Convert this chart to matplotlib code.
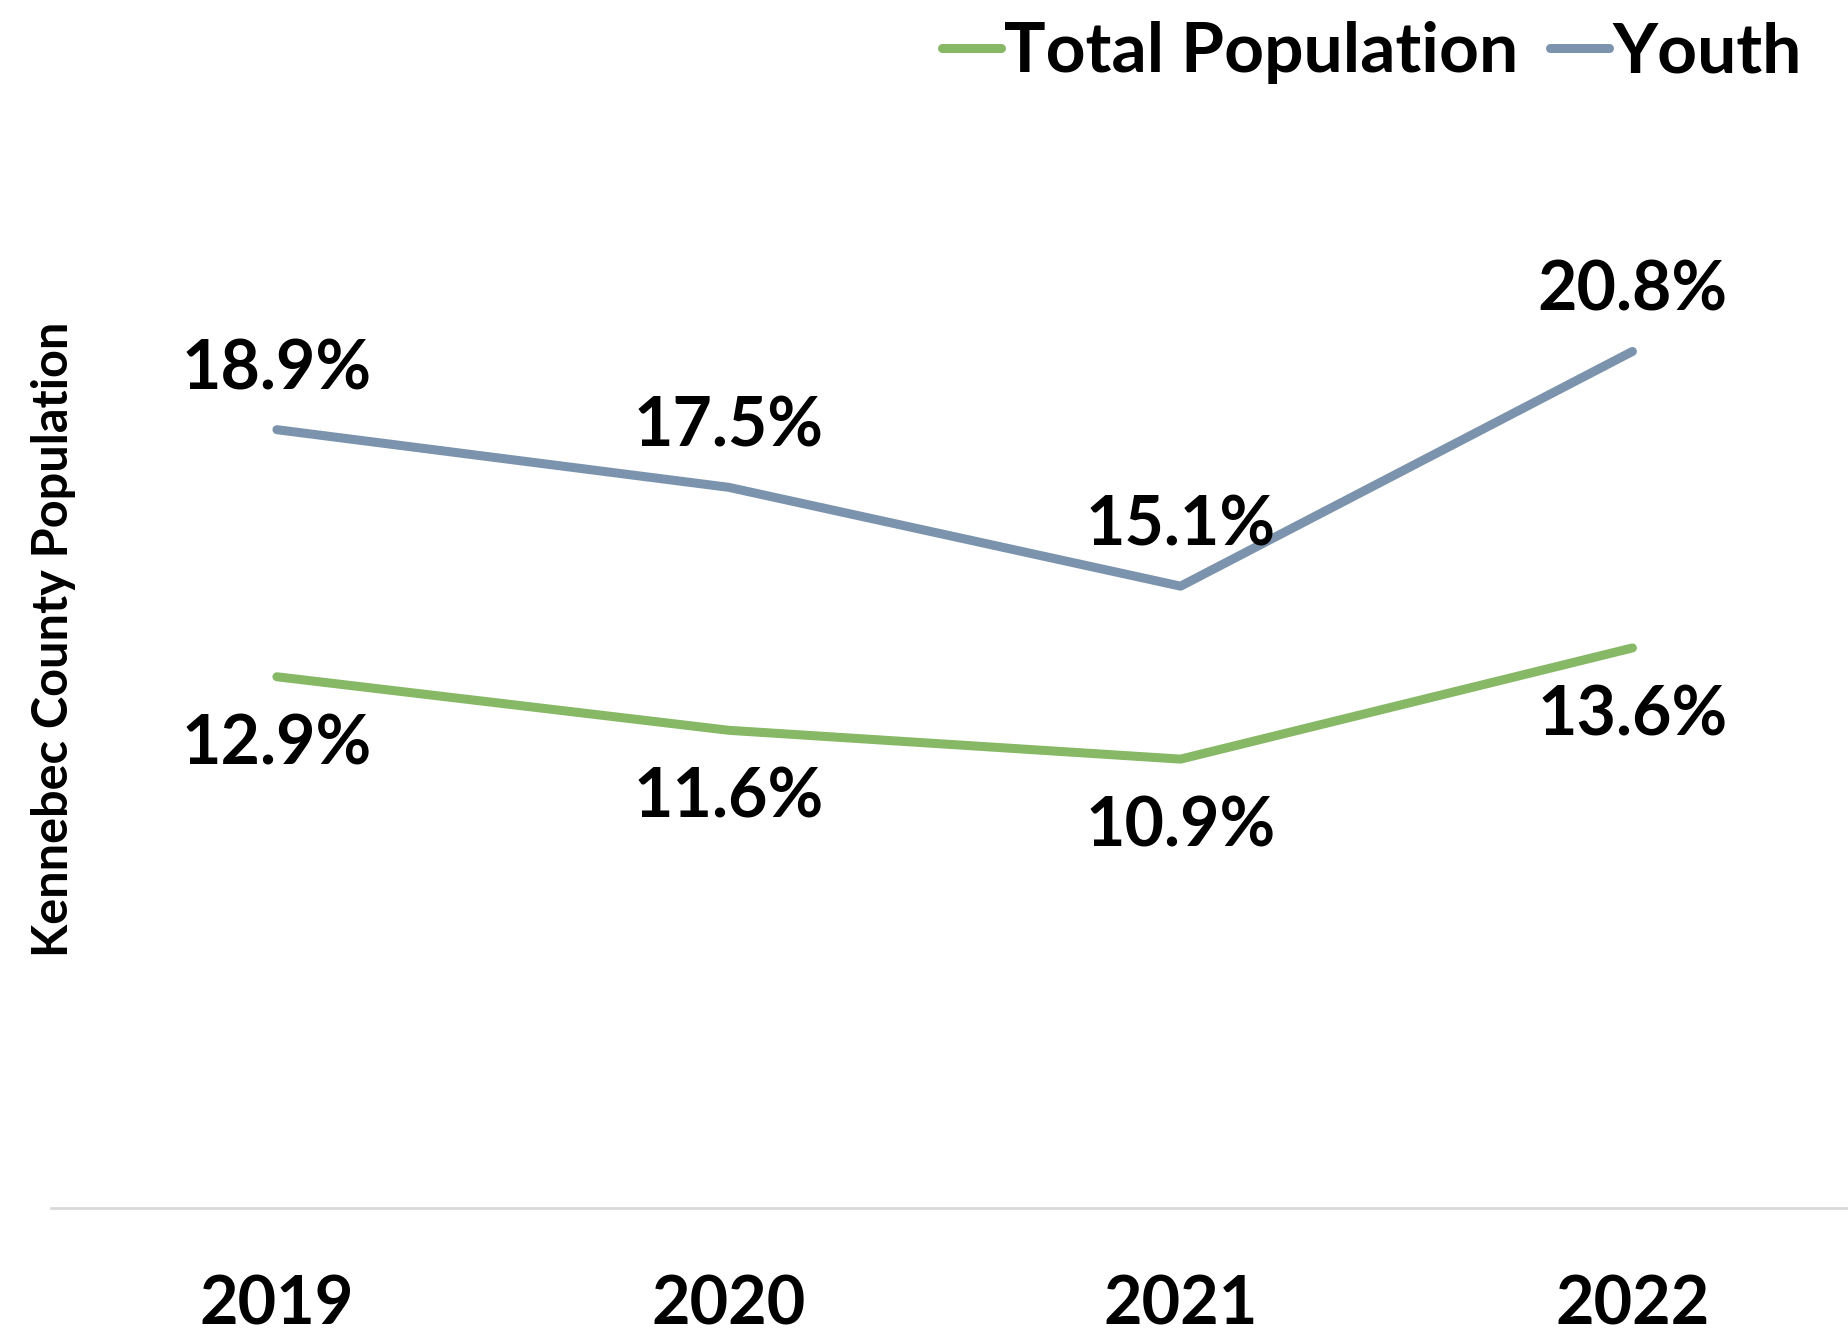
import matplotlib
matplotlib.use("Agg")
import matplotlib.pyplot as plt

plt.rcParams['font.family'] = ['Lato', 'DejaVu Sans']

years = ['2019', '2020', '2021', '2022']
total_population = [12.9, 11.6, 10.9, 13.6]
youth = [18.9, 17.5, 15.1, 20.8]

green = '#86B865'
blue = '#7B93AC'

fig = plt.figure(figsize=(18.48, 13.37), dpi=100)
ax = fig.add_axes([0.0276, 0.0965, 0.978, 0.770])

x = list(range(len(years)))
ax.plot(x, total_population, color=green, lw=6.5, solid_capstyle='round', label='Total Population')
ax.plot(x, youth, color=blue, lw=6.5, solid_capstyle='round', label='Youth')

# data labels: youth above, total below
for i in x:
    ax.annotate(f'{youth[i]:.1f}%', (i, youth[i]), xytext=(0, 60), textcoords='offset pixels',
                ha='center', va='center', fontsize=49, fontweight='bold')
    ax.annotate(f'{total_population[i]:.1f}%', (i, total_population[i]), xytext=(0, -68),
                textcoords='offset pixels', ha='center', va='center', fontsize=49, fontweight='bold')

ax.set_xlim(-0.5, 3.5)
ax.set_ylim(0, 25)
ax.set_xticks(x)
ax.set_xticklabels(years, fontsize=48, fontweight='bold')
ax.tick_params(axis='x', length=0, pad=48)
ax.set_yticks([])

for side in ['top', 'right', 'left']:
    ax.spines[side].set_visible(False)
ax.spines['bottom'].set_color('#D9D9D9')
ax.spines['bottom'].set_linewidth(2)

fig.text(0.0287, 0.522, 'Kennebec County Population', rotation=90, ha='center', va='center',
         fontsize=35, fontweight='bold')

leg = fig.legend(loc='upper right', bbox_to_anchor=(0.99, 1.005), ncol=2, frameon=False,
                 prop={'size': 50, 'weight': 'bold'}, handlelength=0.85, handletextpad=0.05,
                 columnspacing=0.45, borderaxespad=0)

fig.savefig('out.png', dpi=100)
